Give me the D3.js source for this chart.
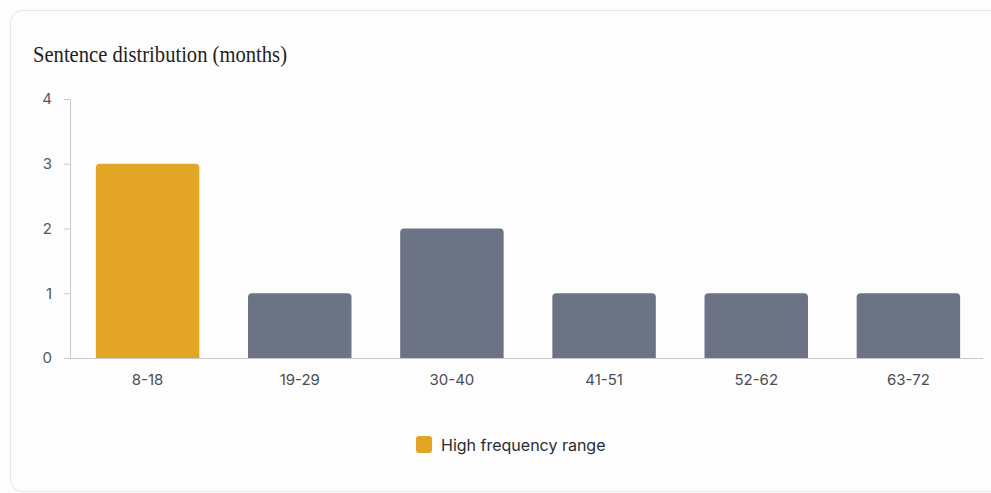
<!DOCTYPE html>
<html lang="en">
<head>
    <meta charset="UTF-8">
    <title>Sentence distribution</title>
    <script src="https://d3js.org/d3.v7.min.js"></script>
    <style>
        body { margin: 0; background: #fdfdfd; }
        svg { display: block; }
    </style>
</head>
<body>
    <svg width="991" height="493"></svg>
    <script>
        // Chart data
        const ranges = ["8-18", "19-29", "30-40", "41-51", "52-62", "63-72"];
        const counts = [3, 1, 2, 1, 1, 1];
        const highlighted = ["8-18"];
        const yTicks = [0, 1, 2, 3, 4];
        const legendLabel = "High frequency range";

        const data = ranges.map((r, i) => ({ range: r, count: counts[i] }));

        const svg = d3.select("svg");

        // Card background
        svg.append("rect")
            .attr("x", 10.5).attr("y", 10.5)
            .attr("width", 1010).attr("height", 481)
            .attr("rx", 12)
            .attr("fill", "#fdfdfd")
            .attr("stroke", "#e6e6e8");

        // Title
        svg.append("text")
            .attr("x", 33).attr("y", 62)
            .attr("font-family", "'Liberation Serif', 'DejaVu Serif', serif")
            .attr("font-size", 23)
            .attr("fill", "#1f1f24")
            .attr("textLength", 254)
            .attr("lengthAdjust", "spacingAndGlyphs")
            .text("Sentence distribution (months)");

        const plotLeft = 70, plotRight = 983, plotTop = 99, plotBottom = 358;

        const x = d3.scaleBand().domain(ranges).range([plotLeft, 986])
            .paddingInner(0.32).paddingOuter(0.17);
        const y = d3.scaleLinear().domain([0, 4]).range([plotBottom, plotTop]);

        const color = d => highlighted.includes(d.range) ? "#e2a526" : "#6c7385";

        // Y axis
        const yAxis = svg.append("g")
            .attr("transform", `translate(${plotLeft},0)`)
            .call(d3.axisLeft(y).tickValues(yTicks).tickSize(6).tickPadding(12).tickFormat(d3.format("d")));
        yAxis.select(".domain").attr("stroke", "#c9c9cd");
        yAxis.selectAll(".tick line").attr("stroke", "#c9c9cd");
        yAxis.selectAll(".tick text")
            .attr("font-family", "Inter, 'Noto Sans', sans-serif")
            .attr("font-size", 15)
            .attr("fill", "#555860");

        // Bars with rounded tops
        const r = 4;
        svg.append("g").selectAll("path")
            .data(data)
            .join("path")
            .attr("fill", color)
            .attr("d", d => {
                const x0 = x(d.range), x1 = x0 + x.bandwidth();
                const y0 = y(d.count), y1 = y(0);
                return `M${x0},${y1}V${y0 + r}Q${x0},${y0} ${x0 + r},${y0}` +
                    `H${x1 - r}Q${x1},${y0} ${x1},${y0 + r}V${y1}Z`;
            });

        // X axis
        const xAxis = svg.append("g")
            .attr("transform", `translate(0,${plotBottom})`)
            .call(d3.axisBottom(x).tickSize(0).tickPadding(16));
        xAxis.select(".domain").remove();
        svg.append("line")
            .attr("x1", plotLeft - 6).attr("x2", plotRight)
            .attr("y1", plotBottom + 0.5).attr("y2", plotBottom + 0.5)
            .attr("stroke", "#c9c9cd");
        xAxis.selectAll(".tick text")
            .attr("font-family", "Inter, 'Noto Sans', sans-serif")
            .attr("font-size", 15)
            .attr("fill", "#4a4d55");

        // Legend
        const legend = svg.append("g").attr("transform", "translate(416,436)");
        legend.append("rect")
            .attr("width", 16).attr("height", 17).attr("rx", 3)
            .attr("fill", "#e2a526");
        legend.append("text")
            .attr("x", 25).attr("y", 15)
            .attr("font-family", "Inter, 'Noto Sans', sans-serif")
            .attr("font-size", 16)
            .attr("fill", "#2a2c33")
            .text(legendLabel);
    </script>
</body>
</html>
